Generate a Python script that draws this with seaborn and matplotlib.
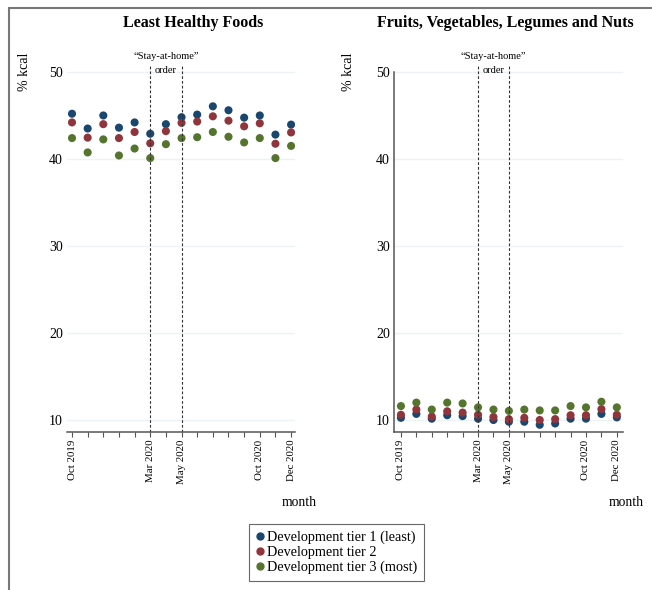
import numpy as np
import pandas as pd
import matplotlib
matplotlib.use("Agg")
import matplotlib.pyplot as plt
import seaborn as sns
from matplotlib.lines import Line2D
import matplotlib.transforms as mtransforms

months = ['Oct 2019', 'Nov 2019', 'Dec 2019', 'Jan 2020', 'Feb 2020', 'Mar 2020',
          'Apr 2020', 'May 2020', 'Jun 2020', 'Jul 2020', 'Aug 2020', 'Sep 2020',
          'Oct 2020', 'Nov 2020', 'Dec 2020']
shown_ticks = ['Oct 2019', 'Mar 2020', 'May 2020', 'Oct 2020', 'Dec 2020']
policy_months = ['Mar 2020', 'May 2020']
tiers = ['Development tier 1 (least)', 'Development tier 2', 'Development tier 3 (most)']
tier_colors = ['#1a476f', '#90353b', '#55752f']

# least healthy foods, % kcal
lhf_tier1 = [45.2, 43.5, 45.0, 43.6, 44.2, 42.9, 44.0, 44.8, 45.1, 46.05, 45.6, 44.75, 45.0, 42.8, 43.95]
lhf_tier2 = [44.2, 42.45, 44.0, 42.4, 43.1, 41.8, 43.2, 44.15, 44.3, 44.9, 44.4, 43.75, 44.1, 41.75, 43.05]
lhf_tier3 = [42.4, 40.75, 42.25, 40.4, 41.2, 40.1, 41.7, 42.4, 42.5, 43.1, 42.55, 41.9, 42.4, 40.1, 41.5]

# fruits, vegetables, legumes and nuts, % kcal
fvln_tier1 = [10.25, 10.7, 10.15, 10.55, 10.45, 10.15, 10.0, 9.8, 9.8, 9.45, 9.6, 10.15, 10.15, 10.7, 10.3]
fvln_tier2 = [10.6, 11.2, 10.4, 11.0, 10.85, 10.6, 10.35, 10.1, 10.25, 10.0, 10.1, 10.55, 10.55, 11.25, 10.6]
fvln_tier3 = [11.6, 12.0, 11.2, 12.0, 11.9, 11.45, 11.2, 11.05, 11.2, 11.1, 11.1, 11.6, 11.45, 12.1, 11.45]

panel_titles = ['Least Healthy Foods', 'Fruits, Vegetables, Legumes and Nuts']

def long_df(series):
    rows = []
    for tier, vals in zip(tiers, series):
        for i, v in enumerate(vals):
            rows.append({'month': i, 'kcal': v, 'tier': tier})
    return pd.DataFrame(rows)

panels = [long_df([lhf_tier1, lhf_tier2, lhf_tier3]),
          long_df([fvln_tier1, fvln_tier2, fvln_tier3])]

sns.set_theme(style='white')
plt.rcParams['font.family'] = ['Liberation Serif', 'DejaVu Serif']
plt.rcParams['text.color'] = 'black'
plt.rcParams['xtick.labelcolor'] = 'black'
plt.rcParams['ytick.labelcolor'] = 'black'

W, H = 652, 590
fig = plt.figure(figsize=(W / 100, H / 100), dpi=100)

def px_axes(x0, x1, ytop, ybot):
    return fig.add_axes([x0 / W, (H - ybot) / H, (x1 - x0) / W, (ybot - ytop) / H])

axes = [px_axes(67, 295, 65, 432), px_axes(394, 623, 65, 432)]
xlims = [(-0.32, 14.25), (-0.45, 14.4)]
title_x = [193, 505]
ylabel_x = [25, 348]
month_x = [317, 644]

for k, (ax, df) in enumerate(zip(axes, panels)):
    sns.scatterplot(data=df, x='month', y='kcal', hue='tier', hue_order=tiers,
                    palette=tier_colors, s=34, linewidth=0, ax=ax, legend=(k == 0))
    ax.set_ylim(8.62, 50.8)
    ax.set_xlim(*xlims[k])
    ax.set_yticks([10, 20, 30, 40, 50])
    ax.yaxis.grid(True, color='#edf3f4', linewidth=1)
    ax.set_axisbelow(True)
    ax.set_xticks(range(len(months)))
    ax.set_xticklabels([m if m in shown_ticks else '' for m in months],
                       rotation=90, fontsize=7.8)
    ax.tick_params(axis='x', length=3.5, width=0.8, color='#555555', pad=2,
                   bottom=True)
    ax.tick_params(axis='y', length=0, pad=3, labelsize=10)
    ax.set_xlabel('')
    ax.set_ylabel('')
    for s in ['top', 'right', 'left']:
        ax.spines[s].set_visible(False)
    ax.spines['bottom'].set_color('#555555')
    ax.spines['bottom'].set_linewidth(1.1)
    if k == 1:
        ax.spines['left'].set_visible(True)
        ax.spines['left'].set_color('#555555')
        ax.spines['left'].set_linewidth(1.1)
        ax.spines['left'].set_bounds(8.62, 50)

    for m in policy_months:
        ax.axvline(months.index(m), color='#333333', lw=0.8, ls=(0, (2.5, 1.8)))
    mid = (months.index(policy_months[0]) + months.index(policy_months[1])) / 2
    trans = mtransforms.blended_transform_factory(ax.transData, ax.transAxes)
    ax.text(mid, 1.022, '\u201cStay-at-home\u201d', transform=trans, ha='center',
            va='center', fontsize=7.5, clip_on=False)
    ax.text(mid, 0.986, 'order', transform=trans, ha='center', va='center',
            fontsize=7.5, clip_on=False)

    fig.text(title_x[k] / W, (H - 23) / H, panel_titles[k], ha='center', va='center',
             fontsize=11.5, fontweight='bold')
    fig.text(ylabel_x[k] / W, (H - 72) / H, '% kcal', rotation=90, ha='center',
             va='center', fontsize=10)
    fig.text(month_x[k] / W, (H - 503) / H, 'month', ha='right', va='center',
             fontsize=9.8)

axes[0].get_legend().remove()
handles = [Line2D([], [], marker='o', ls='', color=c, markersize=5) for c in tier_colors]
leg = fig.legend(handles, tiers, loc='center', bbox_to_anchor=(336.5 / W, (H - 552.5) / H),
                 fontsize=10.3, frameon=True, fancybox=False, labelspacing=0.12,
                 handlelength=0.6, handletextpad=0.25, borderpad=0.45, borderaxespad=0)
leg.get_frame().set_edgecolor('#444444')
leg.get_frame().set_linewidth(0.8)

# outer frame (top and left edges only)
fig.add_artist(Line2D([9 / W, 1], [(H - 8) / H, (H - 8) / H], color='#777777', lw=1.5))
fig.add_artist(Line2D([9 / W, 9 / W], [0, (H - 8) / H], color='#777777', lw=1.5))

fig.savefig('out.png', dpi=100)
